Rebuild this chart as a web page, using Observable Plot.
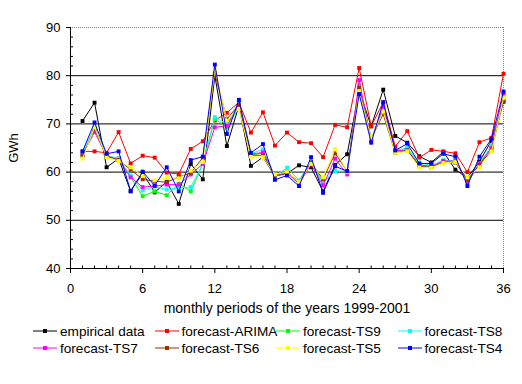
<!DOCTYPE html>
<html>
<head>
<meta charset="utf-8">
<script src="https://cdn.jsdelivr.net/npm/d3@7"></script>
<script src="https://cdn.jsdelivr.net/npm/@observablehq/plot@0.6"></script>
<style>
  body { margin: 0; background: #fff; font-family: "Liberation Sans", Arial, sans-serif; }
  #legend { display: grid; grid-template-columns: repeat(4, 121.5px); padding-left: 33px; row-gap: 1px; margin-top: 3px; }
  .item { display: flex; align-items: center; height: 16px; font-size: 13.6px; color: #000; white-space: nowrap; }
  .item svg { margin-right: 3px; flex: none; }
</style>
</head>
<body>
<div id="chart"></div>
<div id="legend"></div>
<script>
const months = [1,2,3,4,5,6,7,8,9,10,11,12,13,14,15,16,17,18,19,20,21,22,23,24,25,26,27,28,29,30,31,32,33,34,35,36];
const xTicks = [0, 6, 12, 18, 24, 30, 36];
const yTicks = [40, 50, 60, 70, 80, 90];

const empirical = [70.6,74.4,61.0,62.8,56.0,59.8,55.8,58.0,53.4,61.7,58.5,80.0,65.4,73.8,61.3,63.1,59.2,59.7,61.4,61.0,56.0,61.5,63.7,77.0,69.5,77.1,67.5,66.1,63.3,62.0,64.2,60.5,58.8,62.2,66.5,74.6];
const arima     = [64.3,64.3,64.0,68.3,61.8,63.4,63.0,59.9,59.6,64.8,66.4,70.7,72.3,74.5,68.2,72.4,65.5,68.2,66.2,66.0,63.1,69.8,69.3,81.6,69.5,74.5,65.3,68.5,63.0,64.6,64.3,63.9,60.0,66.2,67.1,80.4];
const ts9       = [63.5,69.0,63.2,62.6,59.0,55.0,56.0,55.2,57.6,56.0,61.7,71.0,69.3,73.5,63.5,64.0,59.0,60.2,57.5,62.0,57.8,60.2,60.0,78.0,66.8,73.0,64.2,64.8,61.6,61.0,62.3,62.0,58.3,61.5,65.2,75.7];
const ts8       = [64.0,69.5,63.5,62.8,59.3,56.2,57.0,56.4,56.7,56.9,61.7,71.4,70.0,74.2,63.8,64.7,59.2,60.9,58.3,62.1,58.0,60.2,60.2,78.1,67.0,73.2,64.5,65.0,62.0,61.3,62.5,62.3,58.5,61.8,65.5,75.9];
const ts7       = [63.6,68.3,63.4,62.5,58.9,56.9,57.1,57.4,57.4,59.5,61.7,69.3,69.6,73.9,63.7,64.1,59.2,59.8,57.6,61.6,57.2,62.8,59.5,79.1,66.5,73.7,64.5,64.5,61.5,61.2,62.3,62.3,57.8,61.7,65.0,76.4];
const ts6       = [63.3,69.0,63.3,62.5,60.5,58.5,58.1,57.9,59.0,59.8,63.0,80.5,71.0,74.0,63.5,63.5,59.3,60.0,58.0,62.0,58.5,63.9,60.2,77.5,67.0,72.0,64.0,64.5,61.2,61.0,62.0,62.0,58.5,61.5,64.5,74.8];
const ts5       = [62.8,69.3,63.1,62.3,61.0,59.2,58.3,58.9,58.7,60.3,62.1,81.4,70.7,73.1,63.2,63.1,59.5,60.0,58.0,61.7,58.9,64.8,60.0,76.8,67.1,72.6,64.0,64.3,61.0,60.9,61.9,62.1,58.9,61.0,64.3,75.4];
const ts4       = [64.3,70.3,63.8,64.3,56.1,60.1,57.2,61.0,56.0,62.5,63.2,82.3,67.9,75.0,64.0,65.8,58.4,59.3,57.1,63.1,55.7,61.2,60.2,76.2,66.1,74.5,64.5,65.9,61.8,61.8,63.8,63.2,57.1,63.2,66.9,76.7];

const seriesNames  = ["empirical data","forecast-ARIMA","forecast-TS9","forecast-TS8","forecast-TS7","forecast-TS6","forecast-TS5","forecast-TS4"];
const seriesColors = ["#000000","#ff0000","#00ff00","#00ffff","#ff00ff","#993300","#ffff00","#0000ff"];
const seriesValues = [empirical, arima, ts9, ts8, ts7, ts6, ts5, ts4];

const series = seriesNames.map((name, i) => ({
  name, color: seriesColors[i],
  rows: months.map((m, j) => ({month: m, value: seriesValues[i][j]}))
}));

const yMinor = d3.range(42, 90, 2).filter(v => v % 10 !== 0);
const xMinor = months.filter(v => v % 6 !== 0);

const marks = [
  Plot.ruleY([50, 60, 70, 80], {stroke: "#000", strokeWidth: 1}),
  Plot.ruleY([90], {stroke: "#808080", strokeDasharray: "1,1"}),
  Plot.ruleX([36], {stroke: "#808080", strokeDasharray: "1,1"}),
  Plot.axisY({ticks: yTicks, tickSize: 4, tickPadding: 6, label: "GWh", labelAnchor: "center", labelOffset: 62, labelArrow: "none", fontSize: 13}),
  Plot.axisY({ticks: yMinor, tickSize: -3, tickFormat: () => "", label: null}),
  Plot.axisX({ticks: xTicks, tickSize: 5, tickPadding: 10, label: null, fontSize: 13}),
  Plot.axisX({ticks: xTicks, tickSize: 0, tickFormat: () => "", label: "monthly periods of the years 1999-2001", labelAnchor: "center", labelOffset: 44, labelArrow: "none", fontSize: 14}),
  Plot.axisX({ticks: xMinor, tickSize: -2.5, tickFormat: () => "", label: null}),
  Plot.ruleX([0], {stroke: "#000"}),
  Plot.ruleY([40], {stroke: "#000"})
];
for (const s of series) {
  marks.push(Plot.line(s.rows, {x: "month", y: "value", stroke: s.color, strokeWidth: 1}));
  marks.push(Plot.dot(s.rows, {x: "month", y: "value", fill: s.color, symbol: "square", r: 2.2}));
}

const chart = Plot.plot({
  width: 522,
  height: 320,
  marginLeft: 70,
  marginRight: 19,
  marginTop: 27,
  marginBottom: 52,
  style: {fontSize: "13px", fontFamily: "'Liberation Sans', Arial, sans-serif", color: "#000", background: "#fff", overflow: "visible"},
  x: {domain: [0, 36]},
  y: {domain: [40, 90]},
  marks
});
document.getElementById("chart").appendChild(chart);

const legend = document.getElementById("legend");
for (const s of series) {
  const div = document.createElement("div");
  div.className = "item";
  div.innerHTML = `<svg width="24" height="8"><line x1="0" y1="4" x2="24" y2="4" stroke="${s.color}" stroke-width="1"/><rect x="10" y="2" width="4" height="4" fill="${s.color}"/></svg><span>${s.name}</span>`;
  legend.appendChild(div);
}
</script>
</body>
</html>
